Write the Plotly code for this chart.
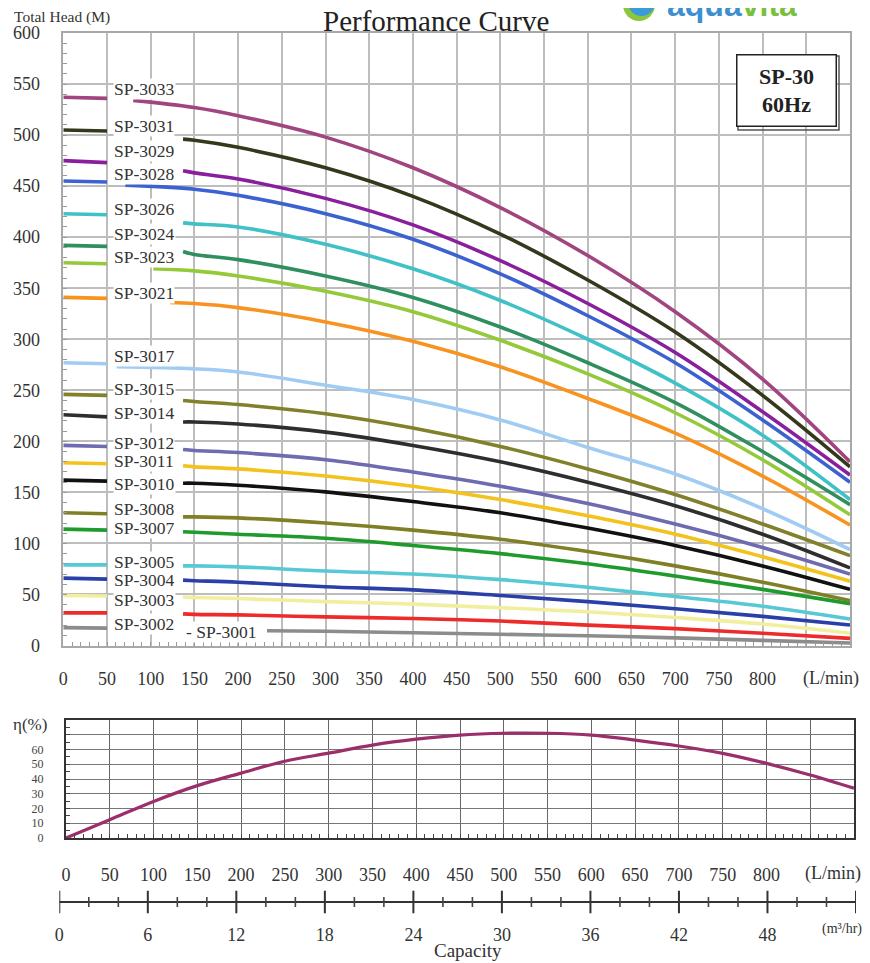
import plotly.graph_objects as go

FONT = "Liberation Serif"

# ---------------- data ----------------
MODELS = ["SP-3033", "SP-3031", "SP-3029", "SP-3028", "SP-3026", "SP-3024", "SP-3023",
          "SP-3021", "SP-3017", "SP-3015", "SP-3014", "SP-3012", "SP-3011", "SP-3010",
          "SP-3008", "SP-3007", "SP-3005", "SP-3004", "SP-3003", "SP-3002", "SP-3001"]

COLORS = ["#a0457f", "#34391c", "#8a1f9e", "#3b62d0", "#3fc1c7", "#2f8f5f", "#94c93a",
          "#f7931e", "#a0cbf2", "#80812a", "#2e2e2e", "#6e6bb0", "#f3c21c", "#111111",
          "#7f7f25", "#1f9a2c", "#57c9d5", "#2a40a8", "#f1ef9e", "#ee2b2b", "#8c8c8c"]

FLOW_LEFT = [0, 50]                                       # L/min, left stub
FLOW_GRID = [150, 200, 300, 400, 500, 600, 700, 800, 900]  # L/min
RESUME_FLOW = [80, 137, 137, 71, 137, 137, 103, 122, 61, 137, 137, 137, 137, 137,
               137, 137, 137, 137, 137, 137, 233]

# heads (M): [Q=0, Q=50, Q=resume, then FLOW_GRID ...]
HEAD_3033 = [537, 536, 534, 527, 519, 498, 468, 429, 382, 327, 261, 180]
HEAD_3031 = [505, 504, 496, 495, 488, 468, 440, 403, 358, 307, 245, 175]
HEAD_3029 = [475, 473, 465, 463, 457, 438, 412, 377, 335, 287, 229, 167]
HEAD_3028 = [455, 454, 451, 447, 441, 423, 398, 364, 323, 277, 221, 160]
HEAD_3026 = [423, 422, 414, 413, 410, 393, 369, 338, 300, 257, 206, 143]
HEAD_3024 = [392, 391, 386, 383, 378, 362, 341, 312, 277, 238, 190, 138]
HEAD_3023 = [375, 374, 369, 367, 362, 347, 327, 299, 266, 228, 182, 128]
HEAD_3021 = [341, 340, 336, 335, 331, 317, 298, 273, 242, 208, 166, 118]
HEAD_3017 = [277, 276, 273, 271, 268, 255, 241, 221, 194, 168, 134, 94]
HEAD_3015 = [246, 245, 240, 239, 236, 227, 213, 195, 173, 148, 119, 88]
HEAD_3014 = [226, 224, 219, 219, 217, 209, 196, 180, 160, 137, 109, 76]
HEAD_3012 = [196, 195, 192, 191, 189, 182, 170, 156, 139, 119, 96, 70]
HEAD_3011 = [179, 178, 176, 175, 173, 166, 156, 143, 127, 109, 87, 63]
HEAD_3010 = [162, 161, 159, 159, 157, 150.5, 141, 130, 115, 98, 78, 55]
HEAD_3008 = [130, 129, 126, 126, 125, 120, 113, 104, 92, 78, 62, 44]
HEAD_3007 = [114, 113, 111.5, 111, 109, 105, 98, 90, 80, 68, 55, 41]
HEAD_3005 = [79, 79, 78, 78, 77, 73, 70, 64.5, 57, 48, 38.5, 26]
HEAD_3004 = [66, 65, 64, 63.5, 62, 57.5, 54.5, 49, 43, 36, 28.5, 20]
HEAD_3003 = [49, 48.5, 47.5, 47, 46, 43, 40.5, 37, 33, 27.5, 21, 12]
HEAD_3002 = [32, 32, 31, 30.5, 30, 28, 26.5, 24, 20, 16.5, 12, 7]
HEAD_3001 = [17.5, 17, 14.5, None, None, 14, 12.5, 11, 9.5, 7.5, 5, 2.5]

HEADS = [HEAD_3033, HEAD_3031, HEAD_3029, HEAD_3028, HEAD_3026, HEAD_3024, HEAD_3023,
         HEAD_3021, HEAD_3017, HEAD_3015, HEAD_3014, HEAD_3012, HEAD_3011, HEAD_3010,
         HEAD_3008, HEAD_3007, HEAD_3005, HEAD_3004, HEAD_3003, HEAD_3002, HEAD_3001]

# label vertical placement (M) on the head axis
LABEL_HEAD = [545.5, 509, 484.5, 462, 427.6, 403, 380.4, 345.3, 283.6, 251, 227.8,
              198.5, 180.6, 157.9, 133.5, 114.7, 82.2, 63.7, 44.2, 21.4, 13.3]

EFF_FLOW = [0, 50, 100, 150, 200, 250, 300, 350, 400, 450, 500, 550, 600, 650,
            700, 750, 800, 850, 900]
EFF = [0, 12.4, 24.8, 35.5, 44, 52, 57.5, 63, 67, 69.8, 71, 71, 69.8, 66.4,
       62.4, 57.4, 50.6, 42.7, 33.7]

FLOW_TICKS = list(range(0, 901, 50))
FLOW_TICK_TEXT = [str(v) if v <= 800 else "" for v in FLOW_TICKS]
EFF_TICKS = list(range(0, 81, 10))
EFF_TICK_TEXT = [str(v) if v <= 60 else "" for v in EFF_TICKS]
CAP_TICKS = list(range(0, 55, 6))
CAP_TICK_TEXT = [str(v) if v <= 48 else "" for v in CAP_TICKS]
CAP_MINOR = [v for v in range(0, 55, 2) if v % 6]
CAP_RANGE = [0, 54]

# the page body has an 8px margin: the figure is sized to fill the rest of the window
OFF = 8
W, H = 870 - OFF, 963 - OFF
def px(x):
    return (x - OFF) / W
def py(y):
    return 1 - (y - OFF) / H

fig = go.Figure()

# ---------------- head curves ----------------
for name, color, heads, q0 in zip(MODELS, COLORS, HEADS, RESUME_FLOW):
    xs = list(FLOW_LEFT) + [None, q0]
    ys = heads[:2] + [None, heads[2]]
    for q, h in zip(FLOW_GRID, heads[3:]):
        if q > q0 and h is not None:
            xs.append(q)
            ys.append(h)
    fig.add_trace(go.Scatter(x=xs, y=ys, mode="lines", xaxis="x", yaxis="y",
                             line=dict(color=color, width=3.6, shape="spline", smoothing=1.0),
                             hoverinfo="skip", showlegend=False))

# ---------------- efficiency ----------------
fig.add_trace(go.Scatter(x=EFF_FLOW, y=EFF, mode="lines", xaxis="x2", yaxis="y2",
                         line=dict(color="#9c2f6b", width=3.2, shape="spline"),
                         hoverinfo="skip", showlegend=False))

# ---------------- capacity scale (m3/hr) ----------------
fig.add_trace(go.Scatter(x=CAP_RANGE, y=[0, 0], mode="lines", xaxis="x3", yaxis="y3",
                         line=dict(color="#333333", width=2),
                         hoverinfo="skip", showlegend=False))
fig.add_trace(go.Scatter(x=CAP_TICKS, y=[0] * len(CAP_TICKS), mode="markers",
                         xaxis="x3", yaxis="y3",
                         marker=dict(symbol="line-ns", size=16,
                                     line=dict(color="#333333", width=2)),
                         hoverinfo="skip", showlegend=False))
fig.add_trace(go.Scatter(x=CAP_MINOR, y=[0] * len(CAP_MINOR), mode="markers",
                         xaxis="x3", yaxis="y3",
                         marker=dict(symbol="line-ns", size=7,
                                     line=dict(color="#444444", width=1.6)),
                         hoverinfo="skip", showlegend=False))

# invisible helper traces so the minor-tick overlay axes are drawn
fig.add_trace(go.Scatter(x=[0], y=[0], xaxis="x4", yaxis="y4", mode="markers",
                         marker=dict(opacity=0), hoverinfo="skip", showlegend=False))
fig.add_trace(go.Scatter(x=[0], y=[0], xaxis="x5", yaxis="y5", mode="markers",
                         marker=dict(opacity=0), hoverinfo="skip", showlegend=False))

annotations = []
for name, yv in zip(MODELS, LABEL_HEAD):
    txt = "- " + name if name == "SP-3001" else name
    xv = 139 if name == "SP-3001" else 57
    annotations.append(dict(x=xv, y=yv, xref="x", yref="y", text=txt,
                            showarrow=False, xanchor="left", yanchor="middle",
                            bgcolor="white", borderpad=0,
                            font=dict(family=FONT, size=17.5, color="#333")))

def note(x, y, text, size, xanchor="center", yanchor="middle", **kw):
    d = dict(x=px(x), y=py(y), xref="paper", yref="paper", text=text,
             showarrow=False, xanchor=xanchor, yanchor=yanchor,
             font=dict(family=kw.pop("family", FONT), size=size,
                       color=kw.pop("color", "#333")))
    d.update(kw)
    return d

annotations += [
    note(436, 21, "Performance Curve", 29, color="#222"),
    note(12, 17, "Total Head (M)", 15.5, xanchor="left"),
    note(665, 25, "<b><span style='color:#3d8fcf'>aqua</span>"
                  "<span style='color:#7cbf3f'>vita</span></b>", 32,
         xanchor="left", yanchor="bottom", family="Liberation Sans"),
    note(786, 90, "<b>SP-30</b><br><b>60Hz</b>", 22, color="#222",
         width=94, height=66, bordercolor="#222", borderwidth=1.5, borderpad=2,
         bgcolor="white"),
    note(831, 678, "(L/min)", 18),
    note(30, 724, "η(%)", 17),
    note(833, 873, "(L/min)", 18),
    note(842, 929, "(m³/hr)", 14),
    note(468, 950, "Capacity", 19),
]

shapes = [
    dict(type="rect", xref="paper", yref="paper", x0=px(738), x1=px(839),
         y0=py(130), y1=py(56), line=dict(color="#555", width=1.5)),
    dict(type="circle", xref="paper", yref="paper", x0=px(623), x1=px(655),
         y0=py(21), y1=py(-11), fillcolor="#8cc63f", line=dict(width=0)),
    dict(type="circle", xref="paper", yref="paper", x0=px(628), x1=px(655),
         y0=py(16), y1=py(-11), fillcolor="#3b9ad9", line=dict(width=0)),
]

CLEAR = "rgba(0,0,0,0)"
MAIN_X_DOM = [px(63.3), px(850)]
MAIN_Y_DOM = [py(645.5), py(33)]
EFF_X_DOM = [px(66), px(854)]
EFF_Y_DOM = [py(838), py(720)]

fig.update_layout(
    width=W, height=H,
    margin=dict(l=0, r=0, t=0, b=0, autoexpand=False),
    paper_bgcolor="white", plot_bgcolor="white",
    font=dict(family=FONT, color="#333"),
    showlegend=False,
    annotations=annotations,
    shapes=shapes,
    xaxis=dict(domain=MAIN_X_DOM, range=[0, 900], anchor="y",
               tickmode="array", tickvals=FLOW_TICKS, ticktext=FLOW_TICK_TEXT,
               showgrid=True, gridcolor="#bdbdbd", gridwidth=1.6, zeroline=False,
               showline=True, mirror=True, linecolor="#a8a8a8", linewidth=1.6,
               ticks="outside", ticklen=16, tickcolor=CLEAR,
               tickfont=dict(size=18, color="#333")),
    yaxis=dict(domain=MAIN_Y_DOM, range=[0, 600], anchor="x",
               tickmode="linear", tick0=0, dtick=50,
               showgrid=True, gridcolor="#bdbdbd", gridwidth=1.6, zeroline=False,
               showline=True, mirror=True, linecolor="#a8a8a8", linewidth=1.6,
               ticks="outside", ticklen=18, tickcolor=CLEAR,
               tickfont=dict(size=18, color="#333")),
    # minor tick overlays for main chart
    xaxis4=dict(domain=MAIN_X_DOM, range=[0, 900], anchor="y4", overlaying="x",
                tickmode="linear", tick0=0, dtick=10, ticks="inside", ticklen=4,
                tickcolor="#999", showticklabels=False, showgrid=False,
                zeroline=False, showline=False),
    yaxis4=dict(domain=MAIN_Y_DOM, range=[0, 600], anchor="x4", overlaying="y",
                tickmode="linear", tick0=0, dtick=10, ticks="inside", ticklen=4,
                tickcolor="#999", showticklabels=False, showgrid=False,
                zeroline=False, showline=False),
    xaxis2=dict(domain=EFF_X_DOM, range=[0, 900], anchor="y2",
                tickmode="array", tickvals=FLOW_TICKS, ticktext=FLOW_TICK_TEXT,
                showgrid=True, gridcolor="#666", gridwidth=1, zeroline=False,
                showline=True, mirror=True, linecolor="#333", linewidth=2.2,
                ticks="outside", ticklen=19, tickcolor=CLEAR,
                tickfont=dict(size=18, color="#333")),
    yaxis2=dict(domain=EFF_Y_DOM, range=[0, 80], anchor="x2",
                tickmode="array", tickvals=EFF_TICKS, ticktext=EFF_TICK_TEXT,
                showgrid=True, gridcolor="#777", gridwidth=1, zeroline=False,
                showline=True, mirror=True, linecolor="#333", linewidth=2.2,
                ticks="outside", ticklen=18, tickcolor=CLEAR,
                tickfont=dict(size=12, color="#444")),
    xaxis5=dict(domain=EFF_X_DOM, range=[0, 900], anchor="y5", overlaying="x2",
                tickmode="linear", tick0=0, dtick=10, ticks="inside", ticklen=4,
                tickcolor="#444", showticklabels=False, showgrid=False,
                zeroline=False, showline=False),
    yaxis5=dict(domain=EFF_Y_DOM, range=[0, 80], anchor="x5", overlaying="y2",
                tickmode="linear", tick0=0, dtick=5, ticks="inside", ticklen=4,
                tickcolor="#444", showticklabels=False, showgrid=False,
                zeroline=False, showline=False),
    xaxis3=dict(domain=[px(59.3), px(856)], range=CAP_RANGE, anchor="y3",
                tickmode="array", tickvals=CAP_TICKS, ticktext=CAP_TICK_TEXT,
                showgrid=False, zeroline=False, showline=False,
                ticks="", tickfont=dict(size=18, color="#333")),
    yaxis3=dict(domain=[py(922), py(882)], range=[-1, 1], anchor="x3",
                showgrid=False, zeroline=False, showline=False,
                showticklabels=False, ticks=""),
)

fig.write_html("out.html")
